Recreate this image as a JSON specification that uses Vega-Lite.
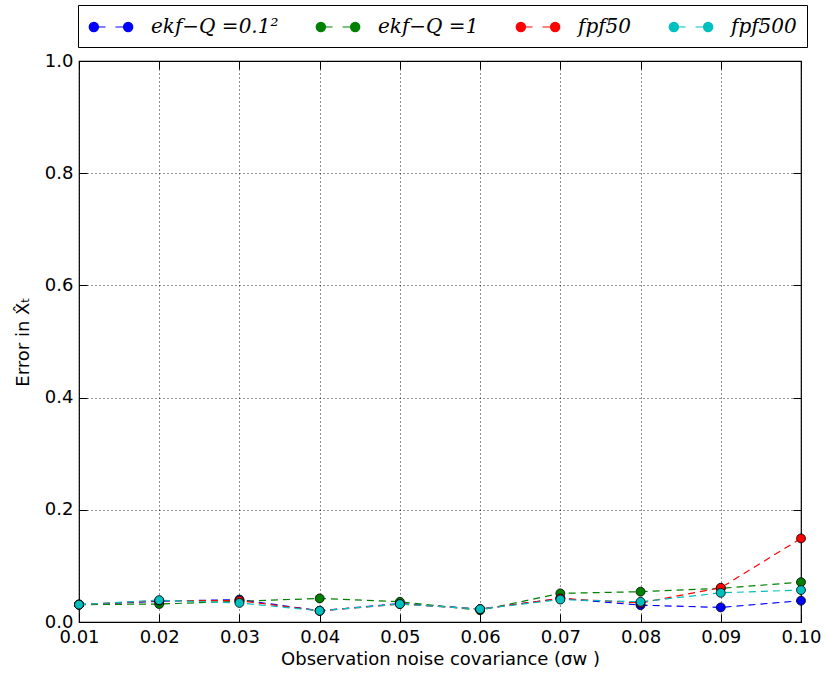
{
  "$schema": "https://vega.github.io/schema/vega-lite/v6.json",
  "width": 722,
  "height": 561,
  "autosize": {"type": "none"},
  "padding": {"left": 79, "top": 61, "right": 26, "bottom": 54},
  "background": "white",
  "config": {
    "font": "DejaVu Sans",
    "view": {"stroke": "black", "strokeWidth": 1.2},
    "axis": {
      "domain": false,
      "gridColor": "black",
      "gridDash": [1, 3],
      "gridWidth": 1,
      "gridOpacity": 0.85,
      "ticks": true,
      "tickColor": "black",
      "tickSize": -8,
      "tickWidth": 1,
      "labelFlush": false,
      "labelFont": "DejaVu Sans",
      "labelFontSize": 18,
      "labelColor": "black",
      "titleFont": "DejaVu Sans",
      "titleFontSize": 18,
      "titleFontWeight": "normal",
      "titleColor": "black"
    }
  },
  "data": {
    "values": [
      {"sigma": 0.01, "error": 0.031, "series": "ekf−Q =0.1²"},
      {"sigma": 0.02, "error": 0.037, "series": "ekf−Q =0.1²"},
      {"sigma": 0.03, "error": 0.040, "series": "ekf−Q =0.1²"},
      {"sigma": 0.04, "error": 0.020, "series": "ekf−Q =0.1²"},
      {"sigma": 0.05, "error": 0.033, "series": "ekf−Q =0.1²"},
      {"sigma": 0.06, "error": 0.023, "series": "ekf−Q =0.1²"},
      {"sigma": 0.07, "error": 0.042, "series": "ekf−Q =0.1²"},
      {"sigma": 0.08, "error": 0.030, "series": "ekf−Q =0.1²"},
      {"sigma": 0.09, "error": 0.026, "series": "ekf−Q =0.1²"},
      {"sigma": 0.10, "error": 0.038, "series": "ekf−Q =0.1²"},
      {"sigma": 0.01, "error": 0.031, "series": "ekf−Q =1"},
      {"sigma": 0.02, "error": 0.032, "series": "ekf−Q =1"},
      {"sigma": 0.03, "error": 0.037, "series": "ekf−Q =1"},
      {"sigma": 0.04, "error": 0.042, "series": "ekf−Q =1"},
      {"sigma": 0.05, "error": 0.036, "series": "ekf−Q =1"},
      {"sigma": 0.06, "error": 0.021, "series": "ekf−Q =1"},
      {"sigma": 0.07, "error": 0.051, "series": "ekf−Q =1"},
      {"sigma": 0.08, "error": 0.054, "series": "ekf−Q =1"},
      {"sigma": 0.09, "error": 0.060, "series": "ekf−Q =1"},
      {"sigma": 0.10, "error": 0.071, "series": "ekf−Q =1"},
      {"sigma": 0.01, "error": 0.031, "series": "fpf50"},
      {"sigma": 0.02, "error": 0.038, "series": "fpf50"},
      {"sigma": 0.03, "error": 0.038, "series": "fpf50"},
      {"sigma": 0.04, "error": 0.020, "series": "fpf50"},
      {"sigma": 0.05, "error": 0.032, "series": "fpf50"},
      {"sigma": 0.06, "error": 0.023, "series": "fpf50"},
      {"sigma": 0.07, "error": 0.042, "series": "fpf50"},
      {"sigma": 0.08, "error": 0.034, "series": "fpf50"},
      {"sigma": 0.09, "error": 0.061, "series": "fpf50"},
      {"sigma": 0.10, "error": 0.149, "series": "fpf50"},
      {"sigma": 0.01, "error": 0.031, "series": "fpf500"},
      {"sigma": 0.02, "error": 0.039, "series": "fpf500"},
      {"sigma": 0.03, "error": 0.034, "series": "fpf500"},
      {"sigma": 0.04, "error": 0.020, "series": "fpf500"},
      {"sigma": 0.05, "error": 0.032, "series": "fpf500"},
      {"sigma": 0.06, "error": 0.023, "series": "fpf500"},
      {"sigma": 0.07, "error": 0.040, "series": "fpf500"},
      {"sigma": 0.08, "error": 0.036, "series": "fpf500"},
      {"sigma": 0.09, "error": 0.052, "series": "fpf500"},
      {"sigma": 0.10, "error": 0.057, "series": "fpf500"}
    ]
  },
  "encoding": {
    "color": {
      "field": "series",
      "type": "nominal",
      "scale": {
        "domain": ["ekf−Q =0.1²", "ekf−Q =1", "fpf50", "fpf500"],
        "range": ["#0000ff", "#008000", "#ff0000", "#00bfbf"]
      },
      "legend": {
        "orient": "none",
        "legendX": -1,
        "legendY": -56,
        "direction": "horizontal",
        "title": null,
        "strokeColor": "black",
        "fillColor": "white",
        "padding": 10,
        "symbolType": "M-1.98,0 A0.42,0.42 0 1,0 -1.14,0 A0.42,0.42 0 1,0 -1.98,0 Z M1.14,0 A0.42,0.42 0 1,0 1.98,0 A0.42,0.42 0 1,0 1.14,0 Z M-1.14,0 L-0.5,0 M0.41,0 L1.14,0",
        "symbolSize": 484,
        "symbolOffset": 11,
        "symbolStrokeWidth": 1.2,
        "labelFont": "DejaVu Serif",
        "labelFontStyle": "italic",
        "labelFontSize": 20,
        "labelColor": "black",
        "labelOffset": 28,
        "labelLimit": 300,
        "columnPadding": 34,
        "encode": {
          "symbols": {
            "update": {
              "fill": {"scale": "color", "field": "value"},
              "stroke": {"scale": "color", "field": "value"},
              "strokeDash": {"value": []},
              "opacity": {"value": 1}
            }
          }
        }
      }
    }
  },
  "layer": [
    {
      "mark": {"type": "line", "strokeDash": [7, 5], "strokeWidth": 1.2},
      "encoding": {
        "x": {
          "field": "sigma",
          "type": "quantitative",
          "scale": {"domain": [0.01, 0.1], "nice": false, "zero": false},
          "axis": {
            "orient": "top",
            "values": [0.01, 0.02, 0.03, 0.04, 0.05, 0.06, 0.07, 0.08, 0.09, 0.1],
            "labels": false,
            "grid": false,
            "title": null
          }
        },
        "y": {
          "field": "error",
          "type": "quantitative",
          "scale": {"domain": [0, 1], "nice": false},
          "axis": {
            "orient": "right",
            "values": [0, 0.2, 0.4, 0.6, 0.8, 1.0],
            "labels": false,
            "grid": false,
            "title": null
          }
        }
      }
    },
    {
      "mark": {"type": "point", "shape": "circle", "filled": true, "size": 80, "stroke": "black", "strokeWidth": 0.8, "opacity": 1},
      "encoding": {
        "x": {
          "field": "sigma",
          "type": "quantitative",
          "scale": {"domain": [0.01, 0.1], "nice": false, "zero": false},
          "axis": {
            "orient": "bottom",
            "values": [0.01, 0.02, 0.03, 0.04, 0.05, 0.06, 0.07, 0.08, 0.09, 0.1],
            "format": ".2f",
            "grid": true,
            "labelPadding": 14,
            "title": "Observation noise covariance (σw )",
            "titlePadding": 4
          }
        },
        "y": {
          "field": "error",
          "type": "quantitative",
          "scale": {"domain": [0, 1], "nice": false},
          "axis": {
            "orient": "left",
            "values": [0, 0.2, 0.4, 0.6, 0.8, 1.0],
            "format": ".1f",
            "grid": true,
            "labelPadding": 14,
            "title": "Error in X̂ₜ",
            "titlePadding": 12
          }
        }
      }
    }
  ],
  "resolve": {"axis": {"x": "independent", "y": "independent"}}
}
